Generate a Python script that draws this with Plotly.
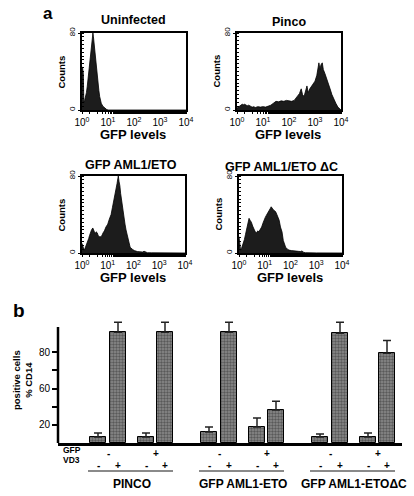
import numpy as np
import plotly.graph_objects as go

W, H = 414, 496
FONT = "Liberation Sans"

# ---------------- data: flow histograms (log10 GFP, counts) ----------------
UNINF_LOG = [0.0, 0.02, 0.05, 0.07, 0.10, 0.13, 0.17, 0.20, 0.23, 0.27, 0.30, 0.33, 0.36, 0.38, 0.40,
             0.42, 0.44, 0.46, 0.49, 0.52, 0.55, 0.58, 0.62, 0.65, 0.68, 0.74, 0.80, 0.85, 0.94, 1.0, 4.0]
UNINF_CNT = [45, 44, 38, 8, 10, 13, 18, 24, 32, 40, 47, 54, 62, 68, 74,
             80, 76, 70, 63, 53, 43, 34, 26, 20, 14, 7, 4, 2.4, 0.7, 0, 0]

PINCO_LOG = [0.0, 0.05, 0.1, 0.15, 0.2, 0.25, 0.3, 0.35, 0.4, 0.45, 0.5, 0.55, 0.6, 0.65, 0.7, 0.8, 0.9,
             1.0, 1.1, 1.2, 1.3, 1.4, 1.5, 1.6, 1.7, 1.8, 1.9, 2.0, 2.1, 2.2, 2.3, 2.4, 2.47, 2.52, 2.58,
             2.64, 2.69, 2.74, 2.8, 2.9, 3.0, 3.07, 3.12, 3.15, 3.19, 3.23, 3.28, 3.32, 3.38, 3.45, 3.5,
             3.58, 3.65, 3.72, 3.8, 3.88, 3.95, 4.0]
PINCO_CNT = [2, 3, 4, 5, 6, 5.5, 6, 5, 4.5, 5, 4, 3.5, 3, 3.5, 2.5, 3.5, 3,
             3.5, 3, 4, 5, 7, 9, 8.5, 9.5, 9, 10, 9.5, 9, 10, 14, 17, 22, 16, 14,
             20, 25, 18, 22, 26, 30, 36, 44, 49, 42, 47, 49, 42, 38, 33, 28,
             22, 16, 11, 7, 3, 1, 0]

AML_LOG = [0.0, 0.02, 0.05, 0.08, 0.12, 0.17, 0.22, 0.26, 0.29, 0.33, 0.37, 0.42, 0.46, 0.51, 0.55,
           0.59, 0.63, 0.68, 0.73, 0.77, 0.82, 0.87, 0.93, 1.0, 1.06, 1.13, 1.18, 1.23, 1.28, 1.32,
           1.36, 1.39, 1.41, 1.44, 1.47, 1.5, 1.54, 1.58, 1.62, 1.67, 1.71, 1.77, 1.82, 1.87, 1.95,
           2.03, 2.15, 2.28, 2.35, 2.41, 2.47, 2.54, 2.7, 3.0, 3.5, 4.0]
AML_CNT = [10, 8, 3, 3, 5, 8, 12, 15, 18, 22, 24, 26, 22, 20, 22,
           21, 18, 17, 17, 18, 21, 23, 27, 30, 35, 40, 47, 53, 60, 67,
           72, 77, 80, 74, 70, 62, 53, 45, 38, 30, 24, 16, 11, 6, 4,
           2.5, 1.5, 1, 1, 1.8, 0.8, 0.3, 0.2, 0.2, 0.1, 0]

DC_LOG = [0.0, 0.03, 0.06, 0.1, 0.14, 0.17, 0.21, 0.25, 0.3, 0.35, 0.39, 0.43, 0.48, 0.53, 0.58,
          0.63, 0.68, 0.73, 0.77, 0.82, 0.88, 0.93, 0.97, 1.02, 1.06, 1.11, 1.16, 1.21, 1.25, 1.29,
          1.33, 1.38, 1.42, 1.47, 1.51, 1.56, 1.61, 1.67, 1.72, 1.77, 1.81, 1.88, 1.94, 2.03, 2.13,
          2.23, 2.32, 2.4, 2.45, 2.5, 2.58, 3.0, 4.0]
DC_CNT = [17, 10, 3, 5, 8, 10, 14, 19, 24, 30, 36, 34, 32, 28, 24,
          22, 21, 23, 22, 24, 27, 31, 35, 37, 39, 41, 43, 46, 48, 46,
          45, 44, 43, 40, 37, 34, 27, 22, 13, 9, 6, 4, 3, 2.5, 2,
          2, 1.7, 1.5, 2.2, 0.8, 0.3, 0.1, 0]

HIST_TITLES = ["Uninfected", "Pinco", "GFP AML1/ETO", "GFP AML1/ETO \u0394C"]
GFP_TICKVALS = [1, 10, 100, 1000, 10000]
GFP_TICKTEXT = ["10<sup>0</sup>", "10<sup>1</sup>", "10<sup>2</sup>", "10<sup>3</sup>", "10<sup>4</sup>"]

# ---------------- data: CD14 bar chart ----------------
GROUPS = ["PINCO", "GFP AML1-ETO", "GFP AML1-ETO\u0394C"]
GFP_SIGNS = ["-", "-", "+", "+"]
VD3_SIGNS = ["-", "+", "-", "+"]
CD14 = [[5.3, 97.6, 5.3, 97.6],
        [9.7, 97.6, 14.1, 29.0],
        [5.3, 96.7, 5.3, 79.1]]
CD14_ERR = [[3.5, 8.8, 3.5, 8.8],
            [4.4, 8.8, 7.9, 7.9],
            [2.6, 9.7, 3.5, 11.4]]
Y_TICKVALS = [16, 32, 48, 64, 80]
Y_TICKTEXT = ["20", "", "60", "", "80"]

# ---------------- layout helpers ----------------
def fx(p):
    return p / W

def fy(p):
    return 1 - p / H

annotations = []
shapes = []

def ann(text, x, y, size, bold=True, angle=0, xanchor="center", xref="paper", yanchor="middle"):
    annotations.append(dict(
        text=f"<b>{text}</b>" if bold else text,
        x=x if xref != "paper" else fx(x), y=fy(y), xref=xref, yref="paper",
        showarrow=False, textangle=angle, xanchor=xanchor, yanchor=yanchor,
        font=dict(family=FONT, size=size, color="black")))

fig = go.Figure()

# histogram panels: (x0, x1, y0, y1) in px
PANELS = [(82, 186, 33, 110), (237, 341, 33, 110), (82, 185, 176, 253), (239, 342, 176, 253)]
HIST_DATA = [(UNINF_LOG, UNINF_CNT), (PINCO_LOG, PINCO_CNT), (AML_LOG, AML_CNT), (DC_LOG, DC_CNT)]
TITLE_POS = [(133, 20), (289, 22), (131, 165), (281, 167)]

layout_axes = {}
for i, ((x0, x1, y0, y1), (lg, cnt)) in enumerate(zip(PANELS, HIST_DATA)):
    n = i + 1
    xa = "x" if n == 1 else f"x{n}"
    ya = "y" if n == 1 else f"y{n}"
    fig.add_trace(go.Scatter(
        x=np.power(10.0, lg), y=cnt, mode="lines", fill="tozeroy",
        line=dict(color="black", width=0.8), fillcolor="#1c1c1c",
        xaxis=xa, yaxis=ya, showlegend=False, hoverinfo="skip"))
    layout_axes[f"xaxis{n}"] = dict(
        domain=[fx(x0), fx(x1)], anchor=ya, type="log", range=[0, 4], automargin=False,
        showline=True, mirror=True, linecolor="black", linewidth=1.5,
        showgrid=False, zeroline=False,
        tickvals=GFP_TICKVALS, ticktext=GFP_TICKTEXT,
        ticks="outside", ticklen=2, tickcolor="black", tickwidth=1,
        minor=dict(ticks="outside", ticklen=2, tickcolor="black", showgrid=False),
        tickfont=dict(family=FONT, size=10, color="black"))
    layout_axes[f"yaxis{n}"] = dict(
        domain=[fy(y1), fy(y0)], anchor=xa, range=[0, 80], automargin=False,
        showline=True, mirror=True, linecolor="black", linewidth=1.5,
        showgrid=False, zeroline=False,
        tickvals=[0, 80], ticktext=["0", "80"], tickangle=-90,
        ticks="outside", ticklen=2, tickcolor="black",
        minor=dict(ticks="inside", dtick=4, ticklen=2, tickcolor="black", showgrid=False),
        tickfont=dict(family=FONT, size=8, color="black"))
    tx, ty = TITLE_POS[i]
    ann(HIST_TITLES[i], tx, ty, 12.5)
    ann("Counts", x0 - 21, (y0 + y1) / 2, 9.5, angle=-90)
    ann("GFP levels", (x0 + x1) / 2 - 1, y1 + 24, 13)

ann("a", 48, 13, 17)
ann("b", 19, 310, 19)

# ---------------- bar chart ----------------
BX0, BX1 = 58, 402
BAR_PX_TOP, BAR_PX_BASE = 316, 443
FIRST_CENTER, GROUP_SPACING = 98, 111
BAR_OFFSETS = [0, 20, 48, 67]
BAR_W = 16
YMAX = 112

xs, ys, es = [], [], []
for g, (vals, errs) in enumerate(zip(CD14, CD14_ERR)):
    for k in range(4):
        xs.append(FIRST_CENTER + g * GROUP_SPACING + BAR_OFFSETS[k])
        ys.append(vals[k])
        es.append(errs[k])

fig.add_trace(go.Bar(
    x=xs, y=ys, width=BAR_W, xaxis="x5", yaxis="y5", showlegend=False, hoverinfo="skip",
    marker=dict(color="#707070", line=dict(color="black", width=1),
                pattern=dict(shape=".", fgcolor="#262626", bgcolor="#8c8c8c", size=3, solidity=0.5)),
    error_y=dict(type="data", array=es, arrayminus=[0] * len(es), symmetric=False,
                 color="#222", thickness=1.5, width=4)))

layout_axes["xaxis5"] = dict(domain=[fx(BX0), fx(BX1)], anchor="y5", range=[BX0, BX1], automargin=False,
                             showline=True, linecolor="black", linewidth=2.5,
                             showticklabels=False, ticks="", showgrid=False, zeroline=False)
layout_axes["yaxis5"] = dict(domain=[fy(BAR_PX_BASE), fy(BAR_PX_TOP)], anchor="x5", range=[0, YMAX],
                             automargin=False, showline=False, showgrid=False, zeroline=False,
                             tickvals=Y_TICKVALS, ticktext=Y_TICKTEXT,
                             ticks="outside", ticklen=5, tickwidth=2, tickcolor="black",
                             tickfont=dict(family=FONT, size=10, color="black"))

axis_top_val = (BAR_PX_BASE - 327) / ((BAR_PX_BASE - BAR_PX_TOP) / YMAX)
shapes.append(dict(type="line", xref="paper", yref="y5", x0=fx(BX0), x1=fx(BX0),
                   y0=0, y1=axis_top_val, line=dict(color="black", width=2.5)))

ann("positive cells<br>% CD14", 22, 380, 9.5, angle=-90)
ann("GFP", 61, 450, 8.5, xanchor="left")
ann("VD3", 61, 460, 8.5, xanchor="left")

for g, name in enumerate(GROUPS):
    centers = [FIRST_CENTER + g * GROUP_SPACING + o for o in BAR_OFFSETS]
    ann(GFP_SIGNS[0], (centers[0] + centers[1]) / 2, 453, 10, xref="x5")
    ann(GFP_SIGNS[2], (centers[2] + centers[3]) / 2, 453, 10, xref="x5")
    for k in range(4):
        ann(VD3_SIGNS[k], centers[k], 465, 10, xref="x5")
    shapes.append(dict(type="line", xref="x5", yref="paper", x0=centers[0] - 10, x1=centers[3] + 8,
                       y0=fy(471), y1=fy(471), line=dict(color="#8a8a8a", width=2)))
    ann(name, (centers[0] + centers[3]) / 2, 484, 12)

fig.update_layout(
    width=W, height=H, autosize=False,
    margin=dict(l=0, r=0, t=0, b=0, pad=0, autoexpand=False),
    paper_bgcolor="white", plot_bgcolor="white",
    annotations=annotations, shapes=shapes,
    font=dict(family=FONT, color="black"),
    bargap=0,
    **layout_axes)

fig.write_html("out.html", config={"displayModeBar": False},
               post_script="document.body.style.margin='0';document.body.style.padding='0';"
                           "document.body.style.overflow='hidden';")
